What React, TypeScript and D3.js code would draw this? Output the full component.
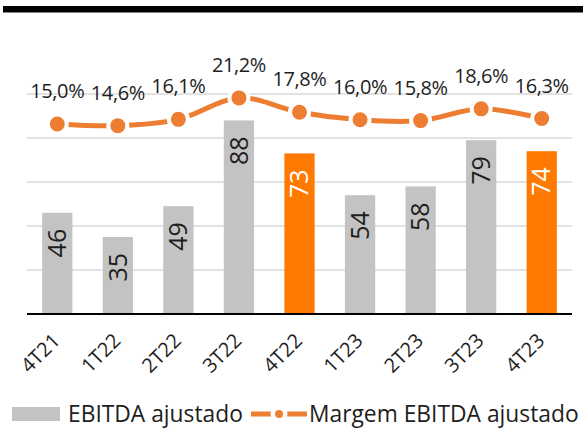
import React from "react";
import * as d3 from "d3";

const categories = ["4T21", "1T22", "2T22", "3T22", "4T22", "1T23", "2T23", "3T23", "4T23"];
const ebitda = [46, 35, 49, 88, 73, 54, 58, 79, 74];
const margem = [15.0, 14.6, 16.1, 21.2, 17.8, 16.0, 15.8, 18.6, 16.3];
const highlighted = ["4T22", "4T23"];
const yTicks = [20, 40, 60, 80, 100];
const legendLabels = ["EBITDA ajustado", "Margem EBITDA ajustado"];

const W = 583;
const H = 428;
const FONT = "'Open Sans', 'Noto Sans', sans-serif";
const GRAY = "#C3C3C3";
const ORANGE_BAR = "#FF7A00";
const ORANGE_LINE = "#ED7D31";
const TEXT = "#1E1E1E";

export default function App() {
  const x = d3.scaleBand<string>().domain(categories).range([27, 572]).paddingInner(0.5).paddingOuter(0.25);
  const y = d3.scaleLinear().domain([0, 100]).range([314, 94]);
  const y2 = d3.scaleLinear().domain([-30.2, 32.6]).range([314, 50]);
  const cx = (c: string) => (x(c) as number) + x.bandwidth() / 2;

  const linePts: [number, number][] = categories.map((c, i) => [cx(c), y2(margem[i])]);
  const lineGen = d3.line().curve(d3.curveCardinal.tension(0));
  const fmtPct = (v: number) => d3.format(".1f")(v).replace(".", ",") + "%";

  return (
    <svg width={W} height={H} style={{ position: "absolute", left: 0, top: 0, background: "#fff" }} fontFamily={FONT}>
      <rect x={3} y={6} width={W - 3} height={6.5} fill="#000" />
      {yTicks.map((t) => (
        <line key={t} x1={27} x2={572} y1={y(t)} y2={y(t)} stroke="#D9D9D9" strokeWidth={1.5} />
      ))}
      {categories.map((c, i) => {
        const hl = highlighted.includes(c);
        const top = y(ebitda[i]);
        return (
          <g key={c}>
            <rect x={x(c)} y={top} width={x.bandwidth()} height={y(0) - top} fill={hl ? ORANGE_BAR : GRAY} />
            <text
              transform={`translate(${cx(c)},${top + 16}) rotate(-90)`}
              textAnchor="end"
              dy="0.35em"
              fontSize={25}
              fill={hl ? "#fff" : TEXT}
            >
              {ebitda[i]}
            </text>
          </g>
        );
      })}
      <line x1={27} x2={572} y1={y(0)} y2={y(0)} stroke="#000" strokeWidth={2} />
      <path d={lineGen(linePts) || ""} fill="none" stroke={ORANGE_LINE} strokeWidth={5} />
      {linePts.map((p, i) => (
        <circle key={i} cx={p[0]} cy={p[1]} r={9.5} fill={ORANGE_LINE} stroke="#fff" strokeWidth={4} />
      ))}
      {linePts.map((p, i) => (
        <text key={"l" + i} x={p[0]} y={p[1] - 26} textAnchor="middle" fontSize={20} letterSpacing={-0.4} fill={TEXT}>
          {fmtPct(margem[i])}
        </text>
      ))}
      {categories.map((c) => (
        <text
          key={"x" + c}
          transform={`translate(${cx(c) + 4},${342}) rotate(-45)`}
          textAnchor="end"
          fontSize={20}
          fill={TEXT}
        >
          {c}
        </text>
      ))}
      <g>
        <rect x={12} y={407} width={48} height={14} fill={GRAY} />
        <text x={68} y={422} fontSize={22.8} fill={TEXT}>
          {legendLabels[0]}
        </text>
        <line x1={251} x2={307} y1={414} y2={414} stroke={ORANGE_LINE} strokeWidth={5} />
        <circle cx={279} cy={414} r={6.25} fill={ORANGE_LINE} stroke="#fff" strokeWidth={4.5} />
        <text x={309} y={422} fontSize={22.8} fill={TEXT}>
          {legendLabels[1]}
        </text>
      </g>
    </svg>
  );
}
